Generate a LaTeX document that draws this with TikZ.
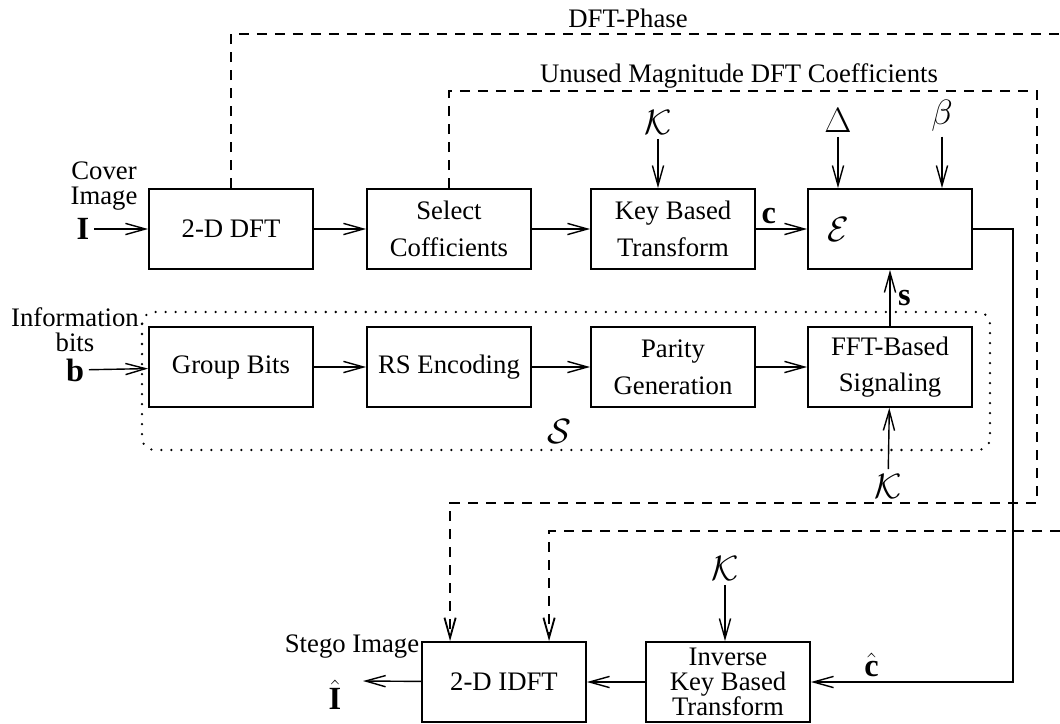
\documentclass[tikz,border=0pt]{standalone}
\usepackage{fix-cm}
\usepackage{fontspec}
\setmainfont{Liberation Serif}
\usetikzlibrary{arrows.meta,calc}
\tikzset{
  blk/.style={draw, line width=1.3pt, minimum width=4.1cm, minimum height=2cm, align=center},
  sym/.style={font=\fontsize{23}{23}\selectfont},
  keysym/.style={font=\fontsize{25}{25}\selectfont},
  arr/.style={line width=1pt, -{Straight Barb[length=0.5cm,width=0.28cm]}},
  dsh/.style={line width=1.3pt, dash pattern=on 0.25cm off 0.2cm},
}
\begin{document}
\begin{tikzpicture}[x=0.025cm, y=-0.025cm, font=\fontsize{19}{18}\selectfont]
    \useasboundingbox (0,0) rectangle (1060,724);
    % embedding chain
    \node[blk] (dft) at (231,229) {2-D DFT};
    \node[blk] (sel) at (449,229) {Select\\[8pt]Cofficients};
    \node[blk] (key) at (673,229) {Key Based\\[8pt]Transform};
    \node[blk] (enc) at (890,229) {};
    \node[keysym] (encsym) at (838,229) {$\mathcal{E}$};
    % message chain
    \node[blk] (grp) at (231,367) {Group Bits};
    \node[blk] (rs) at (449,367) {RS Encoding};
    \node[blk] (par) at (673,367) {Parity\\[8pt]Generation};
    \node[blk] (fft) at (890,367) {FFT-Based\\[8pt]Signaling};
    \draw[line width=1.8pt, dash pattern=on 0pt off 0.25cm, line cap=round, rounded corners=0.3cm] (142,312) rectangle (990,450);
    \node[keysym] (ssym) at (559,431) {$\mathcal{S}$};
    % inverse chain
    \node[blk] (idft) at (504,682) {2-D IDFT};
    \node[blk, inner sep=0pt] (inv) at (728,682) {Inverse\\Key Based\\Transform};
    % inputs and outputs
    \node[sym] (I) at (83,229) {$\mathbf{I}$};
    \node[align=center] (cover) at (104,186) {Cover\\Image};
    \node[sym] (b) at (75,370) {$\mathbf{b}$};
    \node[align=center] (info) at (75,330) {Information\\bits};
    \node[keysym] (k1) at (658,122) {$\mathcal{K}$};
    \node[keysym] (delta) at (838,120) {$\Delta$};
    \node[keysym] (beta) at (942,116) {$\beta$};
    \node[keysym] (k2) at (888,486) {$\mathcal{K}$};
    \node[keysym] (k3) at (725,568) {$\mathcal{K}$};
    \node[sym, inner sep=1pt] (Ihat) at (335,695) {$\hat{\mathbf{I}}$};
    \node[inner sep=1pt] (stego) at (352,647) {Stego Image};
    \node (phase) at (628,18) {DFT-Phase};
    \node (unused) at (739,76) {Unused Magnitude DFT Coefficients};
    \coordinate (sout) at (363,681);
    \coordinate (pret) at (1060,531);
    % solid connectors
    \draw[arr] (I) -- (dft);
    \draw[arr] (dft) -- (sel);
    \draw[arr] (sel) -- (key);
    \draw[arr] (key) -- (enc) node[sym, above, pos=0.25] {$\mathbf{c}$};
    \draw[arr] (k1) -- (k1 |- key.north);
    \draw[arr] (delta) -- (delta |- enc.north);
    \draw[arr] (beta) -- (beta |- enc.north);
    \draw[arr] (b) -- (grp);
    \draw[arr] (grp) -- (rs);
    \draw[arr] (rs) -- (par);
    \draw[arr] (par) -- (fft);
    \draw[arr] (fft) -- (enc) node[sym, midway, right=2pt] {$\mathbf{s}$};
    \draw[arr] (k2) -- (fft);
    \draw[arr] (enc.east) -- ++(40,0) |- (inv.east) node[sym, pos=0.85, above] {$\hat{\mathbf{c}}$};
    \draw[arr] (k3) -- (k3 |- inv.north);
    \draw[arr] (inv) -- (idft);
    \draw[arr] (idft) -- (sout);
    % side information
    \draw[dsh] (dft.north) |- (1060,34);
    \draw[arr, dsh] (pret) -| ($(idft.north west)+(128,0)$);
    \draw[arr, dsh] (sel.north) |- (1037,91) -- (1037,503) -| ($(idft.north west)+(29,0)$);
\end{tikzpicture}
\end{document}
